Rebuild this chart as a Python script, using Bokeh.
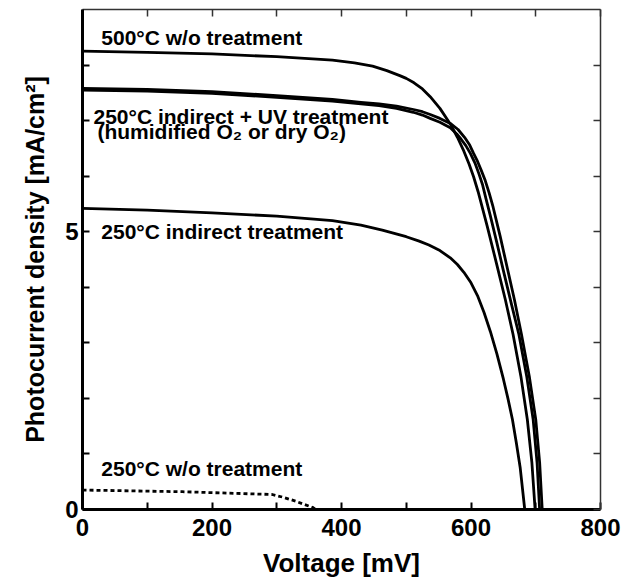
from bokeh.plotting import figure
from bokeh.models import LinearAxis, FixedTicker, Label, Range1d
from bokeh.embed import file_html
from bokeh.resources import INLINE

# ---- data ----
v_500 = [0, 100, 200, 300, 386, 420, 448, 470, 490, 500, 512, 525, 537, 552, 568, 579, 589,
         597, 604, 611, 625, 640, 653, 665, 677, 687, 694, 699]
j_500 = [8.25, 8.23, 8.20, 8.15, 8.09, 8.04, 7.98, 7.90, 7.81, 7.76, 7.68, 7.57, 7.43, 7.22, 6.94, 6.70, 6.45,
         6.22, 5.99, 5.72, 5.10, 4.40, 3.78, 3.15, 2.40, 1.62, 0.85, 0]

v_uv_a = [0, 100, 200, 300, 386, 430, 458, 485, 511, 525, 537, 552, 568, 578, 585, 592,
          599, 606, 612, 618, 623, 630, 640, 650, 662, 674, 686, 696, 702, 706]
j_uv_a = [7.55, 7.53, 7.49, 7.42, 7.35, 7.30, 7.27, 7.22, 7.15, 7.10, 7.04, 6.97, 6.87, 6.76, 6.66, 6.55,
          6.41, 6.24, 6.05, 5.84, 5.60, 5.28, 4.80, 4.30, 3.72, 3.15, 2.40, 1.62, 0.85, 0]

v_uv_b = [0, 100, 200, 300, 386, 430, 458, 485, 511, 525, 537, 552, 568, 580, 590, 598,
          604, 610, 616, 622, 628, 634, 645, 655, 667, 678, 690, 700, 706, 710]
j_uv_b = [7.58, 7.56, 7.52, 7.45, 7.38, 7.33, 7.30, 7.26, 7.20, 7.16, 7.11, 7.04, 6.95, 6.84, 6.70, 6.56,
          6.41, 6.27, 6.10, 5.92, 5.70, 5.45, 4.92, 4.40, 3.78, 3.15, 2.40, 1.62, 0.85, 0]

v_ind = [0, 100, 200, 300, 386, 430, 463, 500, 520, 535, 552, 568, 579, 589, 600, 610, 620,
         630, 640, 650, 657, 664, 670, 676, 683]
j_ind = [5.42, 5.39, 5.34, 5.28, 5.20, 5.12, 5.03, 4.91, 4.83, 4.76, 4.66, 4.53, 4.41, 4.27, 4.08, 3.85, 3.55,
         3.20, 2.80, 2.35, 2.00, 1.62, 1.20, 0.75, 0]

v_wo = [0, 154, 293, 310, 329, 343, 355, 360]
j_wo = [0.35, 0.32, 0.27, 0.22, 0.15, 0.09, 0.04, 0]

x_ticks = [0, 100, 200, 300, 400, 500, 600, 700, 800]
x_labels = {0: "0", 200: "200", 400: "400", 600: "600", 800: "800"}
y_ticks = [0, 1, 2, 3, 4, 5, 6, 7, 8]
y_labels = {0: "0", 5: "5"}

annotations = [
    ("500°C w/o treatment", 29, 8.50),
    ("250°C indirect + UV treatment", 17, 7.08),
    ("(humidified O\u2082 or dry O\u2082)", 23, 6.80),
    ("250°C indirect treatment", 29, 5.01),
    ("250°C w/o treatment", 29, 0.74),
]

FONT = "Liberation Sans"

p = figure(frame_width=518, frame_height=500,
           x_range=Range1d(0, 800), y_range=Range1d(0, 9),
           output_backend="svg", toolbar_location=None,
           min_border_left=82, min_border_top=9, min_border_right=28,
           min_border_bottom=70)
p.grid.visible = False
p.outline_line_color = None
p.background_fill_color = "white"
p.border_fill_color = "white"

# bottom axis
xa = p.xaxis[0]
xa.ticker = FixedTicker(ticks=x_ticks)
xa.major_label_overrides = {t: x_labels.get(t, "") for t in x_ticks}
xa.major_tick_in = 7
xa.major_tick_out = 0
xa.minor_tick_in = 0
xa.minor_tick_out = 0
xa.axis_line_width = 3
xa.major_tick_line_width = 2
xa.major_label_standoff = 9
xa.major_label_text_font = FONT
xa.major_label_text_font_style = "bold"
xa.major_label_text_font_size = "24px"
xa.major_label_text_color = "black"
xa.axis_label = "Voltage [mV]"
xa.axis_label_text_font = FONT
xa.axis_label_text_font_style = "bold"
xa.axis_label_text_font_size = "26px"
xa.axis_label_text_color = "black"
xa.axis_label_standoff = 9

# left axis
ya = p.yaxis[0]
ya.ticker = FixedTicker(ticks=y_ticks)
ya.major_label_overrides = {t: y_labels.get(t, "") for t in y_ticks}
ya.major_tick_in = 7
ya.major_tick_out = 0
ya.minor_tick_in = 0
ya.minor_tick_out = 0
ya.axis_line_width = 3
ya.major_tick_line_width = 2
ya.major_label_standoff = 4
ya.major_label_text_font = FONT
ya.major_label_text_font_style = "bold"
ya.major_label_text_font_size = "24px"
ya.major_label_text_color = "black"
ya.axis_label = "Photocurrent density [mA/cm\u00b2]"
ya.axis_label_text_font = FONT
ya.axis_label_text_font_style = "bold"
ya.axis_label_text_font_size = "25px"
ya.axis_label_text_color = "black"
ya.axis_label_standoff = 13

# top and right frame axes (ticks only)
top = LinearAxis(ticker=FixedTicker(ticks=x_ticks),
                 major_label_text_font_size="0px", major_label_standoff=0,
                 major_tick_in=7, major_tick_out=0, minor_tick_in=0, minor_tick_out=0,
                 axis_line_width=1.5, axis_line_color="#333333",
                 major_tick_line_width=1.5, major_tick_line_color="#333333")
right = LinearAxis(ticker=FixedTicker(ticks=y_ticks),
                   major_label_text_font_size="0px", major_label_standoff=0,
                   major_tick_in=7, major_tick_out=0, minor_tick_in=0, minor_tick_out=0,
                   axis_line_width=1.5, axis_line_color="#333333",
                   major_tick_line_width=1.5, major_tick_line_color="#333333")
p.add_layout(top, "above")
p.add_layout(right, "right")

# curves
for vx, jy in [(v_500, j_500), (v_uv_a, j_uv_a), (v_uv_b, j_uv_b), (v_ind, j_ind)]:
    p.line(vx, jy, line_color="black", line_width=2.8, line_join="round")
p.line(v_wo, j_wo, line_color="black", line_width=2.8, line_dash="4 3")

for txt, x, y in annotations:
    p.add_layout(Label(x=x, y=y, text=txt, text_font=FONT, text_font_style="bold",
                       text_font_size="21px", text_color="black",
                       text_baseline="alphabetic", text_align="left"))

open("out.html", "w").write(file_html(p, INLINE))
